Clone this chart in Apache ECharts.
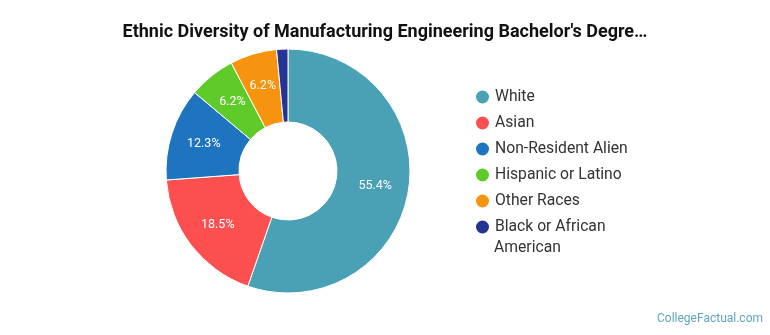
<!DOCTYPE html>
<html><head><meta charset="utf-8">
<script src="https://cdn.jsdelivr.net/npm/echarts@6/dist/echarts.min.js"></script>
<style>html,body{margin:0;padding:0;background:#fff}#c{width:770px;height:335px}</style>
</head><body><div id="c"></div>
<script>
const categories = ["White","Asian","Non-Resident Alien","Hispanic or Latino","Other Races","Black or African American"];
const values = [55.4, 18.5, 12.3, 6.2, 6.2, 1.5];
const colors = ["#4aa0b5","#fc5050","#1f74bf","#5fcb2a","#f7940f","#253494"];
const legendLines = {"Black or African American":["Black or African","American"]};
const titleText = "Ethnic Diversity of Manufacturing Engineering Bachelor's Degre\u2026";

const chart = echarts.init(document.getElementById('c'));
chart.setOption({
  animation:false,
  title:{text:titleText,left:'center',top:18,textStyle:{fontFamily:'Roboto',fontWeight:'bold',fontSize:18,color:'#111'}},
  graphic:[
    {type:'text',right:7,top:313,style:{text:'CollegeFactual.com',fontFamily:'Roboto',fontSize:12,fill:'#5aa6bd'}},
    {type:'text',left:494,top:240,style:{text:legendLines["Black or African American"][1],fontFamily:'Roboto',fontSize:15.7,fill:'#333'}}
  ],
  legend:{
    orient:'vertical',left:469,top:82,itemGap:6,icon:'circle',itemWidth:15,itemHeight:15,
    textStyle:{fontFamily:'Roboto',fontSize:15.7,color:'#333',lineHeight:20},
    formatter:n=>legendLines[n]?legendLines[n][0]:n,
    data:categories
  },
  series:[{
    type:'pie',center:[288,171],radius:[49,122],startAngle:90,clockwise:true,
    itemStyle:{borderColor:'#fff',borderWidth:1},
    label:{position:'inside',formatter:p=>p.value>=5?p.value.toFixed(1)+'%':'',fontFamily:'Roboto',fontSize:12.5,color:'#fff'},
    labelLine:{show:false},
    data:categories.map((c,i)=>({name:c,value:values[i],itemStyle:{color:colors[i]}}))
  }]
});
</script></body></html>
